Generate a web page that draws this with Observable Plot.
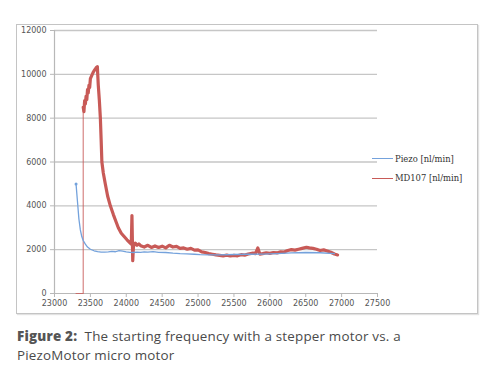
<!DOCTYPE html>
<html>
<head>
<meta charset="utf-8">
<script src="https://cdn.jsdelivr.net/npm/d3@7"></script>
<script src="https://cdn.jsdelivr.net/npm/@observablehq/plot@0.6"></script>
<style>
  html, body { margin: 0; padding: 0; background: #fff; }
  #wrap { position: relative; width: 502px; height: 378px; }
  #frame { position: absolute; left: 16px; top: 24px; width: 460px; height: 288px; border: 1.5px solid #c4c4c4; box-shadow: 1px 1px 1px #e2e2e2; }
  #chart { position: absolute; left: 0; top: 0; }
  #legend { position: absolute; left: 372px; top: 149px; font-family: "DejaVu Serif", "Liberation Serif", serif; font-size: 8.4px; color: #333; }
  .lg { display: flex; align-items: center; height: 19.5px; }
  .sw { width: 21px; height: 1.3px; margin-right: 2px; }
  #caption { position: absolute; left: 17px; top: 327px; font-family: "Open Sans", Lato, sans-serif; font-size: 13.4px; letter-spacing: 0.2px; line-height: 18.5px; color: #4a4a4a; }
  #caption div { height: 18.5px; white-space: nowrap; }
  #caption b { font-weight: 800; color: #555; }
</style>
</head>
<body>
<div id="wrap">
  <div id="frame"></div>
  <div id="chart"></div>
  <div id="legend"></div>
  <div id="caption"><div><b>Figure 2:</b>&nbsp; The starting frequency with a stepper motor vs. a</div><div>PiezoMotor micro motor</div></div>
</div>
<script>
const seriesNames = ["Piezo [nl/min]", "MD107 [nl/min]"];
const seriesColors = ["#74a2dc", "#c85a57"];
const xTicks = [23000, 23500, 24000, 24500, 25000, 25500, 26000, 26500, 27000, 27500];
const yTicks = [0, 2000, 4000, 6000, 8000, 10000, 12000];

const piezoX = [23300, 23320, 23340, 23360, 23380, 23400, 23430, 23460, 23500, 23550, 23600, 23650, 23700, 23750, 23800, 23850, 23900, 23950, 24000, 24050, 24100, 24150, 24200, 24250, 24300, 24375, 24450, 24550, 24650, 24750, 24843, 24950, 25028, 25150, 25300, 25500, 25700, 25900, 26100, 26300, 26500, 26700, 26900];
const piezoY = [5000, 4200, 3400, 2900, 2600, 2420, 2250, 2120, 2020, 1950, 1910, 1890, 1885, 1900, 1920, 1905, 1960, 1930, 1900, 1880, 1870, 1890, 1880, 1900, 1890, 1915, 1880, 1870, 1840, 1820, 1810, 1790, 1770, 1760, 1760, 1780, 1790, 1800, 1820, 1850, 1870, 1860, 1820];

const md107X = [23300, 23400, 23400, 23410, 23420, 23430, 23440, 23450, 23460, 23470, 23480, 23490, 23500, 23520, 23540, 23560, 23580, 23597, 23610, 23625, 23639, 23650, 23660, 23680, 23708, 23740, 23778, 23820, 23860, 23889, 23930, 23970, 24010, 24055, 24070, 24079, 24090, 24100, 24125, 24150, 24175, 24200, 24250, 24300, 24350, 24400, 24450, 24500, 24550, 24600, 24650, 24700, 24750, 24800, 24850, 24900, 24950, 25000, 25050, 25100, 25150, 25200, 25250, 25300, 25350, 25400, 25450, 25500, 25550, 25600, 25650, 25700, 25765, 25800, 25833, 25860, 25900, 25950, 26000, 26050, 26100, 26150, 26200, 26250, 26300, 26350, 26400, 26450, 26510, 26550, 26600, 26650, 26700, 26750, 26800, 26850, 26900, 26944];
const md107Y = [0, 0, 8500, 8300, 8800, 8650, 9000, 8850, 9300, 9150, 9500, 9400, 9800, 9950, 10100, 10200, 10300, 10350, 9500, 8800, 8000, 7000, 6000, 5500, 5000, 4450, 4000, 3600, 3250, 3000, 2750, 2600, 2450, 2300, 2250, 3560, 1500, 2150, 2300, 2200, 2260, 2180, 2120, 2200, 2100, 2170, 2100, 2160, 2080, 2200, 2120, 2150, 2060, 2080, 2020, 2060, 1980, 1990, 1900, 1870, 1820, 1790, 1760, 1740, 1720, 1750, 1710, 1740, 1720, 1770, 1750, 1800, 1840, 1820, 2080, 1800, 1820, 1860, 1830, 1870, 1850, 1900, 1890, 1960, 2000, 1980, 2020, 2060, 2110, 2080, 2060, 2020, 1960, 1990, 1940, 1880, 1800, 1760];

const piezo = piezoX.map((x, i) => ({x, y: piezoY[i]}));
const md107 = md107X.map((x, i) => ({x, y: md107Y[i]}));

const fmt = d => String(d);
const chart = Plot.plot({
  width: 502,
  height: 320,
  marginLeft: 54,
  marginRight: 125,
  marginTop: 30,
  marginBottom: 27,
  style: {fontFamily: "'DejaVu Sans', sans-serif", fontSize: "8px", color: "#555", background: "transparent"},
  x: {domain: [23000, 27500]},
  y: {domain: [0, 12000]},
  marks: [
    Plot.gridY(yTicks.filter(d => d > 0), {stroke: "#c6c6c6", strokeOpacity: 1, strokeWidth: 1.4}),
    Plot.ruleY([0], {stroke: "#b8b8b8", strokeWidth: 1.2}),
    Plot.ruleX([23000], {stroke: "#b8b8b8", strokeWidth: 1.2}),
    Plot.axisY({ticks: yTicks, tickFormat: fmt, tickSize: 4, tickPadding: 4, stroke: "#b8b8b8", fill: "#555", label: null}),
    Plot.axisX({ticks: xTicks, tickFormat: fmt, tickSize: 4, tickPadding: 3, stroke: "#b8b8b8", fill: "#555", label: null}),
    Plot.line(md107.slice(0, 3), {x: "x", y: "y", stroke: seriesColors[1], strokeWidth: 1.1, strokeOpacity: 0.8}),
    Plot.line(md107.slice(2), {x: "x", y: "y", stroke: seriesColors[1], strokeWidth: 3.2, strokeLinejoin: "round"}),
    Plot.line(piezo, {x: "x", y: "y", stroke: seriesColors[0], strokeWidth: 1.3}),
    Plot.dot(piezo.slice(0, 1), {x: "x", y: "y", r: 1.5, fill: seriesColors[0]})
  ]
});
document.getElementById("chart").appendChild(chart);

const legend = document.getElementById("legend");
seriesNames.forEach((name, i) => {
  const row = document.createElement("div");
  row.className = "lg";
  const sw = document.createElement("span");
  sw.className = "sw";
  sw.style.background = seriesColors[i];
  const t = document.createElement("span");
  t.textContent = name;
  row.appendChild(sw);
  row.appendChild(t);
  legend.appendChild(row);
});
</script>
</body>
</html>
